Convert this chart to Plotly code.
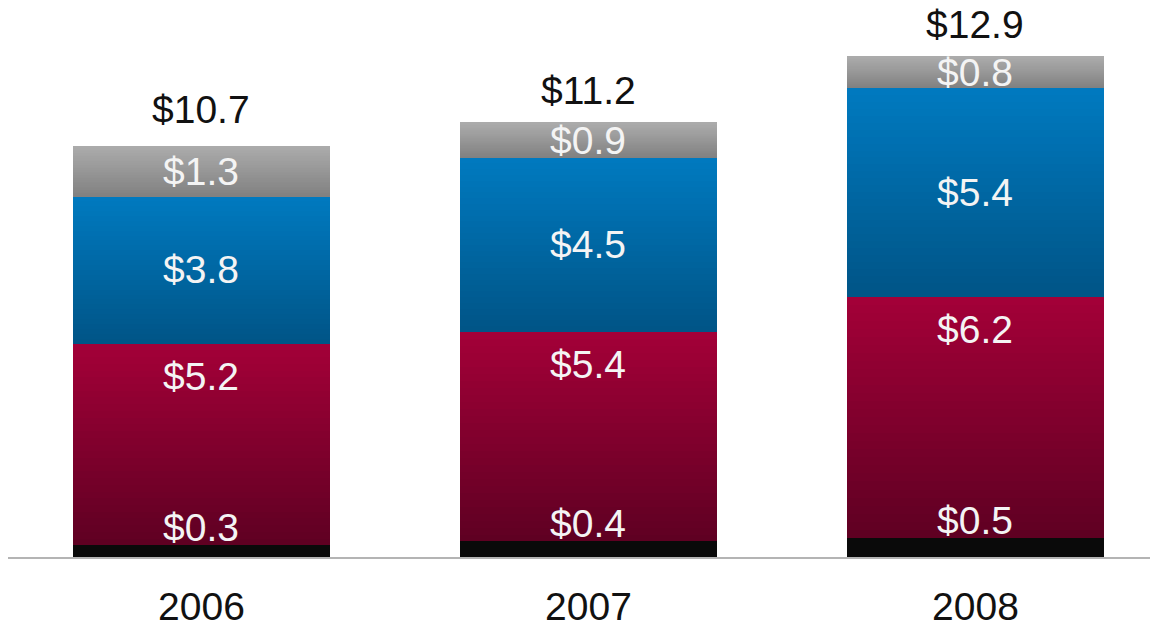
import plotly.graph_objects as go

# Revenue breakdown by year ($ billions)
years = ["2006", "2007", "2008"]
base_seg = [0.3, 0.4, 0.5]        # black base
red_seg = [5.2, 5.4, 6.2]         # crimson
blue_seg = [3.8, 4.5, 5.4]        # blue
gray_seg = [1.3, 0.9, 0.8]        # gray top
totals = [10.7, 11.2, 12.9]

FONT = "Liberation Sans, Arial, Helvetica, sans-serif"
N_SLICES = 30
BAR_W = 0.664


def mix(c_top, c_bot, t):
    # t = 0 at the bottom of a segment, 1 at the top
    r = round(c_bot[0] + (c_top[0] - c_bot[0]) * t)
    g = round(c_bot[1] + (c_top[1] - c_bot[1]) * t)
    b = round(c_bot[2] + (c_top[2] - c_bot[2]) * t)
    return f"rgb({r},{g},{b})"


fig = go.Figure()

# solid black base
fig.add_trace(go.Bar(x=years, y=base_seg, width=BAR_W,
                     marker=dict(color="#0a0a0a", line=dict(width=0)),
                     hoverinfo="skip", showlegend=False))

# gradient-shaded segments, each built from thin stacked slices
segments = [
    (red_seg, (164, 0, 56), (94, 0, 34)),
    (blue_seg, (0, 122, 192), (0, 84, 134)),
    (gray_seg, (172, 172, 172), (128, 128, 128)),
]
for vals, c_top, c_bot in segments:
    for k in range(N_SLICES):
        t = (k + 0.5) / N_SLICES
        fig.add_trace(go.Bar(
            x=years, y=[v / N_SLICES for v in vals], width=BAR_W,
            marker=dict(color=mix(c_top, c_bot, t), line=dict(width=0)),
            hoverinfo="skip", showlegend=False))

annotations = []
white = dict(family=FONT, size=39, color="#f4f4f4")
black = dict(family=FONT, size=39, color="#111111")
for i in range(len(years)):
    b = base_seg[i]
    r = red_seg[i]
    bl = blue_seg[i]
    g = gray_seg[i]
    common = dict(x=i, xref="x", yref="y", showarrow=False)
    # base label sits just above the black strip
    annotations.append(dict(common, y=b, text=f"${b:.1f}",
                            yanchor="bottom", yshift=-6, font=white))
    # crimson label near the top of its segment
    annotations.append(dict(common, y=b + r, text=f"${r:.1f}",
                            yanchor="top", yshift=-9, font=white))
    # blue and gray labels centred in their segments
    annotations.append(dict(common, y=b + r + bl / 2, text=f"${bl:.1f}",
                            yanchor="middle", font=white))
    annotations.append(dict(common, y=b + r + bl + g / 2, text=f"${g:.1f}",
                            yanchor="middle", font=white))
    # total above the bar
    annotations.append(dict(common, y=totals[i], text=f"${totals[i]:.1f}",
                            yanchor="bottom", yshift=9, font=black))

fig.update_layout(
    barmode="stack",
    bargap=0,
    width=1156, height=628,
    margin=dict(l=8, r=6, t=0, b=71),
    paper_bgcolor="white", plot_bgcolor="white",
    annotations=annotations,
    xaxis=dict(
        type="category", range=[-0.5, 2.451],
        showline=True, linecolor="#b4b4b4", linewidth=2,
        showgrid=False, zeroline=False,
        ticks="outside", ticklen=14, tickcolor="rgba(0,0,0,0)",
        tickfont=dict(family=FONT, size=39, color="#111111"),
    ),
    yaxis=dict(range=[0, 14.36], visible=False, showgrid=False, zeroline=False),
)

fig.write_html("out.html")
